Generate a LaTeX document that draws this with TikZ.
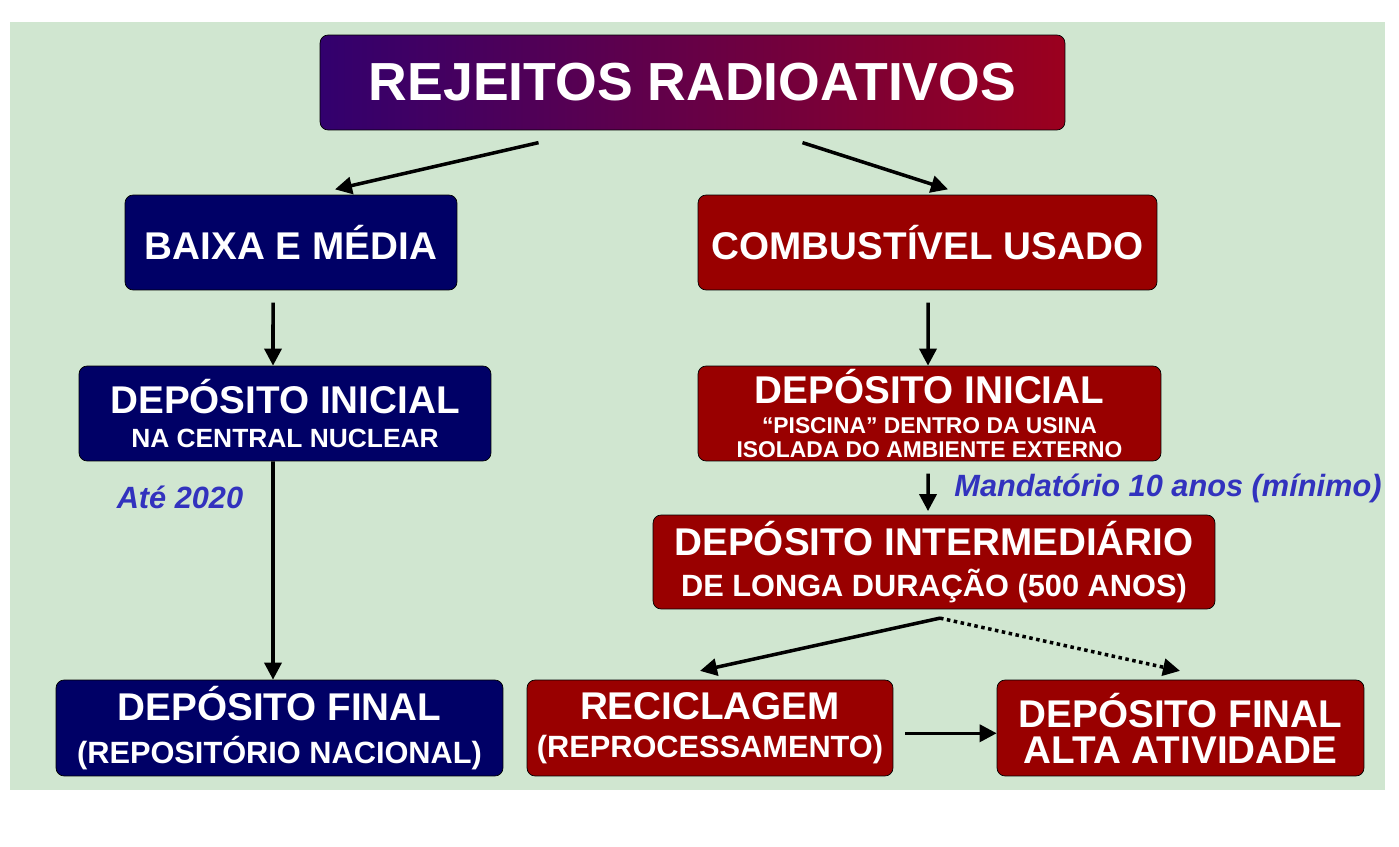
\documentclass[tikz,border=0pt]{standalone}
\usepackage{fontspec}
\setmainfont{Liberation Sans}
\usetikzlibrary{positioning,arrows.meta}
\definecolor{bggreen}{RGB}{208,230,208}
\definecolor{boxnavy}{RGB}{0,0,102}
\definecolor{boxred}{RGB}{153,0,0}
\definecolor{titleblue}{RGB}{50,0,110}
\definecolor{titlered}{RGB}{155,0,30}
\definecolor{notetext}{RGB}{50,50,190}
\tikzset{
  box/.style={draw=black, thin, rounded corners=0.16cm, text=white, font=\bfseries, align=center, inner sep=0pt},
  navybox/.style={box, fill=boxnavy},
  redbox/.style={box, fill=boxred},
  arr/.style={-{Triangle[length=0.34cm,width=0.34cm]}, line width=2pt},
  note/.style={text=notetext, font=\bfseries\itshape\fontsize{17.5}{20}\selectfont}
}
\newcommand{\bigline}[1]{{\fontsize{22}{26}\selectfont #1}}
\newcommand{\midline}[1]{{\fontsize{17.5}{20}\selectfont #1}}
\begin{document}
\begin{tikzpicture}[x=0.02cm,y=-0.02cm]
\useasboundingbox (0,0) rectangle (1399,847);
% background
\fill[bggreen] (10,22) rectangle (1385,790);

%% title
\node[box, left color=titleblue, right color=titlered, minimum width=14.9cm, minimum height=1.9cm,
  font=\bfseries\fontsize{30.5}{36}\selectfont] (title) at (692.5,82.5) {REJEITOS RADIOATIVOS};

%% left branch
\node[navybox, minimum width=6.64cm, minimum height=1.9cm]
  (baixa) at (291,242.5) {\bigline{BAIXA E MÉDIA}};
\node[navybox, minimum width=8.24cm, minimum height=1.9cm]
  (inicialL) at (285,413.5) {\bigline{DEPÓSITO INICIAL}\\[7pt]{\fontsize{15}{17}\selectfont NA CENTRAL NUCLEAR}};
\node[navybox, minimum width=8.94cm, minimum height=1.92cm]
  (finalL) at (279.5,728) {\bigline{DEPÓSITO FINAL}\\[8pt]\midline{(REPOSITÓRIO NACIONAL)}};

%% right branch
\node[redbox, minimum width=9.18cm, minimum height=1.9cm]
  (comb) at (927.5,242.5) {\bigline{COMBUSTÍVEL USADO}};
\node[redbox, minimum width=9.26cm, minimum height=1.9cm]
  (inicialR) at (929.5,413.5) {\bigline{DEPÓSITO INICIAL}\\[5pt]{\fontsize{13}{14}\selectfont ``PISCINA'' DENTRO DA USINA}\\[2pt]{\fontsize{13}{14}\selectfont ISOLADA DO AMBIENTE EXTERNO}};
\node[redbox, minimum width=11.24cm, minimum height=1.88cm]
  (inter) at (934,562) {\bigline{DEPÓSITO INTERMEDIÁRIO}\\[7pt]\midline{DE LONGA DURAÇÃO (500 ANOS)}};
\node[redbox, minimum width=7.32cm, minimum height=1.92cm]
  (recicla) at (710,728) {\bigline{RECICLAGEM}\\[8pt]\midline{(REPROCESSAMENTO)}};
\node[redbox, minimum width=7.34cm, minimum height=1.92cm]
  (finalR) at (1180.5,728) {\bigline{DEPÓSITO FINAL}\\[4pt]\bigline{ALTA ATIVIDADE}};

%% notes
\node[note] (ate) at (180,497) {Até 2020};
\node[note] (mand) at (1168,488) {Mandatório 10 anos (mínimo)};

%% connectors
\draw[arr] ([xshift=-3.08cm,yshift=-7pt]title.south) -- ([xshift=0.88cm,yshift=3pt]baixa.north);
\draw[arr] ([xshift=2.2cm,yshift=-7pt]title.south) -- ([xshift=0.41cm,yshift=3pt]comb.north);
\draw[arr] ([xshift=-0.36cm,yshift=-7pt]baixa.south) -- ([xshift=-0.24cm]inicialL.north);
\draw[arr] ([xshift=-0.24cm]inicialL.south) -- ([xshift=-0.13cm]finalL.north);
\draw[arr] ([xshift=0.01cm,yshift=-7pt]comb.south) -- ([xshift=-0.03cm]inicialR.north);
\draw[arr] ([xshift=-0.03cm,yshift=-7pt]inicialR.south) -- ([xshift=-0.12cm,yshift=2pt]inter.north);
\draw[arr] ([xshift=0.12cm,yshift=-5pt]inter.south) -- ([xshift=-0.2cm,yshift=5pt]recicla.north);
\draw[arr, dotted] ([xshift=0.12cm,yshift=-5pt]inter.south) -- ([xshift=-0.01cm,yshift=5pt]finalR.north);
\draw[arr] ([xshift=0.24cm,yshift=-3pt]recicla.east) -- ([yshift=-3pt]finalR.west);
\end{tikzpicture}
\end{document}
